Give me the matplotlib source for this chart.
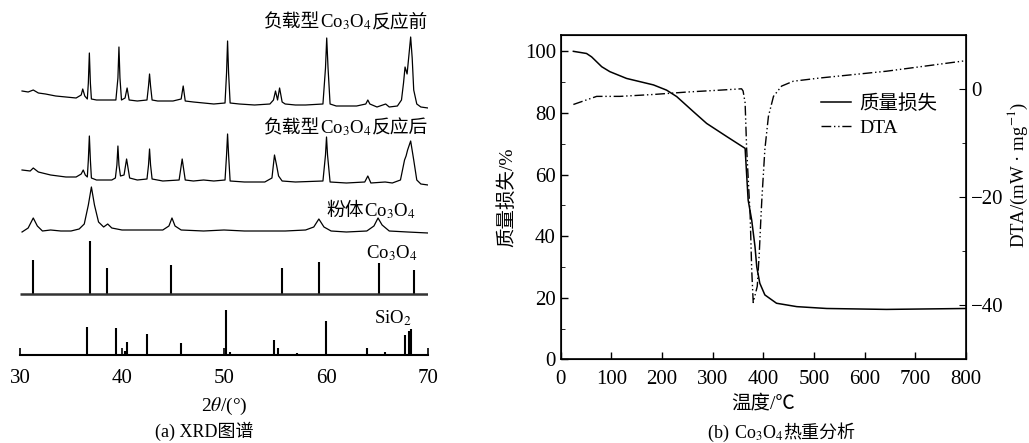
import matplotlib
matplotlib.use('Agg')
import matplotlib.pyplot as plt
from matplotlib.ticker import MultipleLocator, FixedLocator
from matplotlib.offsetbox import TextArea, HPacker, AnnotationBbox

plt.rcParams['font.family'] = ['Liberation Serif', 'Noto Sans CJK SC']
plt.rcParams['mathtext.fontset'] = 'stix'
plt.rcParams['font.size'] = 11.5

# ---- (a) XRD data: 2theta and signal height (pixels above each baseline) ----
before_x = [30.2, 30.8, 31.3, 31.8, 32.5, 33.5, 34.5, 35.5, 36.0, 36.15, 36.35, 36.6, 36.7, 36.8, 36.9, 37.0,
            37.5, 38.5, 39.4, 39.6, 39.7, 39.8, 39.95, 40.3, 40.5, 40.7, 41.5, 42.45, 42.6, 42.7, 42.8, 42.95,
            43.5, 45.0, 45.8, 46.0, 46.2, 47.0, 48.0, 49.0, 50.1, 50.25, 50.35, 50.45, 50.6, 51.5, 53.0, 54.5,
            54.85, 55.05, 55.25, 55.45, 55.7, 56.0, 57.0, 58.0, 59.7, 59.95, 60.07, 60.2, 60.4, 61.0, 63.0,
            63.9, 64.1, 64.3, 65.0, 65.85, 66.2, 67.0, 67.4, 67.6, 67.75, 67.95, 68.15, 68.3, 68.45, 68.6,
            68.9, 69.3, 70.0]
before_y = [17, 16, 18, 15, 14, 12, 11, 10, 13, 19, 12, 9, 25, 55, 25, 9,
            8, 8, 8, 30, 61, 30, 8, 10, 20, 8, 7, 8, 22, 34, 22, 8,
            7, 7, 9, 22, 7, 6, 5, 4, 5, 35, 67, 35, 5, 4, 3, 4,
            8, 17, 8, 20, 6, 4, 3, 3, 4, 40, 70, 40, 4, 2, 2,
            4, 8, 4, 1, 4, 1, 2, 8, 25, 41, 34, 55, 71, 50, 18,
            4, 1, 0]

after_x = [30.2, 31.0, 31.3, 31.8, 33.0, 34.5, 35.5, 36.0, 36.2, 36.4, 36.6, 36.7, 36.8, 36.9, 37.0, 37.5,
           39.0, 39.35, 39.5, 39.6, 39.7, 39.85, 40.2, 40.45, 40.75, 41.5, 42.45, 42.6, 42.7, 42.8, 42.95,
           44.0, 45.6, 45.9, 46.2, 47.0, 48.0, 49.0, 50.1, 50.25, 50.35, 50.45, 50.6, 52.0, 54.0, 54.7,
           54.95, 55.15, 55.35, 55.7, 57.0, 59.7, 59.95, 60.05, 60.15, 60.4, 62.0, 63.8, 64.1, 64.4, 65.8,
           66.5, 67.3, 67.7, 67.85, 68.0, 68.3, 68.6, 68.9, 69.3, 70.0]
after_y = [15, 14, 17, 13, 10, 8, 8, 11, 15, 10, 8, 25, 49, 25, 7, 5,
           5, 7, 20, 39, 20, 9, 10, 26, 7, 5, 6, 20, 36, 20, 6,
           4, 5, 26, 5, 4, 5, 4, 5, 30, 51, 30, 4, 3, 3, 7,
           30, 20, 9, 4, 3, 4, 30, 48, 30, 3, 2, 3, 9, 2, 3,
           2, 5, 25, 29, 35, 44, 25, 5, 1, 0]

powder_x = [30.2, 30.8, 31.3, 31.7, 32.2, 33.0, 34.0, 35.0, 35.8, 36.3, 36.7, 37.0, 37.3, 37.7, 38.2, 38.6,
            39.0, 40.0, 42.0, 44.0, 44.6, 44.9, 45.2, 45.8, 48.0, 50.0, 52.0, 54.0, 56.0, 58.0, 58.8, 59.3,
            59.8, 60.5, 62.0, 64.0, 64.7, 65.1, 65.5, 66.2, 68.0, 70.0]
powder_y = [1, 5, 15, 7, 2, 3, 2, 2, 4, 9, 28, 46, 28, 11, 6, 9,
            5, 3, 3, 3, 7, 15, 7, 3, 2, 3, 2, 2, 2, 3, 6, 14,
            6, 2, 1, 2, 7, 15, 8, 2, 1, 0]

# reference sticks
co3o4_pos = [31.3, 36.85, 38.55, 44.8, 55.65, 59.35, 65.2, 68.6]
co3o4_h = [34, 53, 26, 29, 26, 32, 31, 24]
sio2_pos = [36.55, 39.45, 40.28, 40.45, 42.45, 45.8, 50.15, 50.62, 54.87, 55.33, 57.2, 59.96,
            64.03, 65.8, 67.75, 68.12, 68.3]
sio2_h = [28, 27, 4, 13, 21, 12, 45, 3, 15, 7, 2, 34, 7, 3, 20, 24, 26]

# ---- (b) TG / DTA data ----
temp_tg = [25, 51, 61, 81, 97, 130, 183, 209, 229, 262, 288, 328, 364, 370, 377, 383.5, 387, 393,
           403, 426, 466, 525, 643, 800]
mass = [100, 99.3, 98.2, 95, 93.4, 91.2, 89.1, 87.4, 85.3, 80.4, 76.6, 72.3, 68.5, 51.7, 45.2, 36.6,
        30, 24.7, 20.9, 18.2, 17.1, 16.5, 16.2, 16.5]
temp_dta = [25, 71, 117, 183, 249, 314, 357, 360, 364, 367, 374, 377, 380, 388, 392, 395, 397, 403,
            410, 420, 436, 459, 512, 643, 800]
dta = [-2.9, -1.4, -1.4, -1.05, -0.6, -0.25, 0, -0.4, -2.6, -11, -23.5, -33.4, -39.5, -36.5, -30.3,
       -24.2, -20.5, -11.2, -5.1, -1.4, 0.5, 1.4, 2.0, 3.25, 5.2]


def mixed_text(ax, parts, xy, align, size, coords='data'):
    # chinese pieces and mathtext pieces packed side by side
    boxes = [TextArea(p, textprops=dict(fontsize=size)) for p in parts]
    pack = HPacker(children=boxes, sep=0, pad=0, align='baseline')
    ab = AnnotationBbox(pack, xy, xycoords=coords, box_alignment=align, frameon=False, pad=0,
                        annotation_clip=False)
    ax.add_artist(ab)


fig = plt.figure(figsize=(10.29, 4.43), dpi=100)

# (a) XRD
ax = fig.add_axes([20 / 1029, 88 / 443, 408 / 1029, 345 / 443])
off_before, off_after, off_powder, off_co = 247, 170, 122, 61
ax.plot(before_x, [v + off_before for v in before_y], color='black', lw=0.9)
ax.plot(after_x, [v + off_after for v in after_y], color='black', lw=0.9)
ax.plot(powder_x, [v + off_powder for v in powder_y], color='black', lw=0.9)
ax.vlines(co3o4_pos, off_co, [off_co + h for h in co3o4_h], color='black', lw=1.5)
ax.hlines(off_co, 30, 70, color='#333333', lw=1.8)
ax.vlines(sio2_pos, 0, sio2_h, color='black', lw=1.5)
ax.set_xlim(30, 70)
ax.set_ylim(0, 345)
for s in ['left', 'right', 'top']:
    ax.spines[s].set_visible(False)
ax.spines['bottom'].set_linewidth(1.5)
ax.set_yticks([])
ax.set_xticks([30, 40, 50, 60, 70])
ax.tick_params(axis='x', direction='in', length=5, width=1.2, labelsize=15, pad=10)
ax.set_xlabel(r'2$\theta$/(°)', fontsize=14, labelpad=6)
mixed_text(ax, ['负载型', 'Co$_3$O$_4$', '反应前'], (70, 333), (1, 0.5), 13.5)
mixed_text(ax, ['负载型', 'Co$_3$O$_4$', '反应后'], (70, 227), (1, 0.5), 13.5)
mixed_text(ax, ['粉体', 'Co$_3$O$_4$'], (68.8, 144), (1, 0.5), 13.5)
ax.text(66.5, 102, 'Co$_3$O$_4$', ha='center', va='center', fontsize=13.5)
ax.text(66.6, 37, 'SiO$_2$', ha='center', va='center', fontsize=13.5)
fig.text(204 / 1029, 1 - 431 / 443, '(a) XRD图谱', ha='center', va='center', fontsize=13)

# (b) TG / DTA
ax2 = fig.add_axes([560.7 / 1029, 83.7 / 443, 405.3 / 1029, 324.6 / 443])
l1, = ax2.plot(temp_tg, mass, color='black', lw=1.1, label='质量损失')
ax2.set_xlim(0, 800)
ax2.set_ylim(0, 105.4)
ax2.xaxis.set_major_locator(MultipleLocator(100))
ax2.yaxis.set_major_locator(MultipleLocator(20))
ax2.yaxis.set_minor_locator(MultipleLocator(10))
ax2.tick_params(axis='both', which='both', direction='in', labelsize=15)
ax2.tick_params(axis='both', which='major', length=5, width=1)
ax2.tick_params(axis='y', which='minor', length=3)
ax2.tick_params(axis='x', pad=8)
ax2.set_xlabel('温度/℃', fontsize=14, labelpad=4)
ax2.set_ylabel('质量损失/%', fontsize=14, labelpad=6)
for s in ax2.spines.values():
    s.set_linewidth(1.2)

ax3 = ax2.twinx()
l2, = ax3.plot(temp_dta, dta, color='black', lw=1.0, linestyle=(0, (7, 2, 1, 2, 1, 2)), label='DTA')
ax3.set_ylim(-50, 10)
ax3.yaxis.set_major_locator(FixedLocator([0, -20, -40]))
ax3.yaxis.set_minor_locator(FixedLocator([-10, -30]))
ax3.tick_params(axis='y', which='both', direction='in', labelsize=15)
ax3.tick_params(axis='y', which='major', length=5)
ax3.tick_params(axis='y', which='minor', length=3)
ax3.set_ylabel('DTA/(mW · mg$^{-1}$)', fontsize=13.5)
ax3.yaxis.set_label_coords(1.098, 0.568)
ax3.legend(handles=[l1, l2], loc='upper left', bbox_to_anchor=(0.6, 0.87), frameon=False,
           fontsize=14, handlelength=1.5, handletextpad=0.45, labelspacing=0.3)
mixed_text(fig, ['(b) ', 'Co$_3$O$_4$', '热重分析'], (782 / 1029, 1 - 433 / 443), (0.5, 0.5), 13,
           coords='figure fraction')

fig.savefig('out.png', dpi=100)
